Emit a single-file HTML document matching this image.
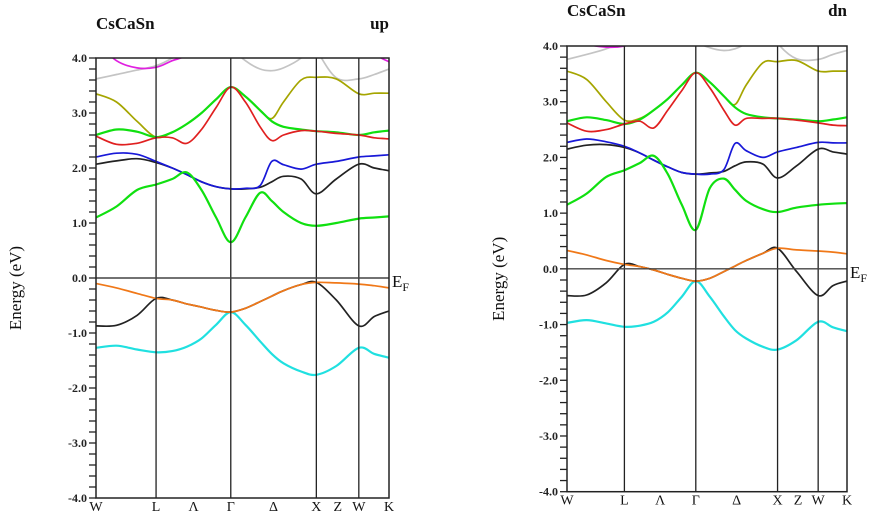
<!DOCTYPE html>
<html><head><meta charset="utf-8">
<style>
html,body{margin:0;padding:0;background:#fff;}
svg{display:block;font-family:"Liberation Serif",serif;}
</style></head>
<body>
<svg id="chart" width="873" height="518" viewBox="0 0 873 518" xmlns="http://www.w3.org/2000/svg"></svg>
<script>
// Shared k-path sample positions (fraction of path length)
const kPoints = [0,0.07,0.14,0.205,0.26,0.31,0.36,0.41,0.46,0.51,0.56,0.6,0.64,0.7,0.752,0.82,0.897,0.95,1];
const kLabels = ["W","L","Λ","Γ","Δ","X","Z","W","K"];
const kLabelPos = [0,0.205,0.333,0.46,0.606,0.752,0.825,0.897,1];
const kLines = [0.205,0.46,0.752,0.897];
const yTicks = [4,3,2,1,0,-1,-2,-3,-4];
const yTickLabels = ["4.0","3.0","2.0","1.0","0.0","-1.0","-2.0","-3.0","-4.0"];

// Spin-up bands (eV)
const upGreenLow  = [1.1,1.3,1.6,1.7,1.8,1.92,1.6,1.1,0.65,1.1,1.55,1.4,1.2,1.0,0.95,1.0,1.08,1.1,1.12];
const upBlue      = [2.2,2.27,2.25,2.12,2.0,1.88,1.75,1.66,1.62,1.63,1.68,2.12,2.06,1.98,2.07,2.12,2.2,2.22,2.24];
const upBlackHigh = [2.07,2.13,2.17,2.1,2.0,1.88,1.75,1.66,1.62,1.62,1.65,1.75,1.85,1.8,1.53,1.8,2.07,2.0,1.95];
const upRed       = [2.58,2.43,2.45,2.55,2.55,2.45,2.7,3.1,3.47,3.2,2.75,2.5,2.6,2.68,2.67,2.63,2.6,2.55,2.53];
const upGreenHigh = [2.6,2.7,2.66,2.56,2.65,2.8,3.0,3.25,3.47,3.3,3.05,2.85,2.75,2.7,2.67,2.65,2.6,2.65,2.68];
const upOlive     = [3.35,3.2,2.85,2.56,2.65,2.8,3.0,3.25,3.47,3.3,3.05,2.9,3.2,3.6,3.65,3.62,3.35,3.36,3.36];
const upGrayA     = [3.62,3.7,3.78,3.86,4.0,4.2,4.4,4.6,4.8,4.8,4.8,4.8,4.8,4.8,4.8,4.8,4.8,4.8,4.8];
const upGrayB     = [4.8,4.8,4.8,4.8,4.8,4.8,4.8,4.6,4.2,3.95,3.8,3.77,3.82,4.0,4.3,4.8,4.8,4.8,4.8];
const upGrayC     = [4.8,4.8,4.8,4.8,4.8,4.8,4.8,4.8,4.8,4.8,4.8,4.8,4.8,4.6,4.15,3.64,3.62,3.7,3.8];
const upMagenta   = [4.3,3.95,3.82,3.83,3.95,4.05,4.3,4.6,4.8,4.8,4.8,4.8,4.8,4.8,4.8,4.8,4.6,4.1,3.93];
const upOrange    = [-0.1,-0.18,-0.28,-0.37,-0.4,-0.47,-0.53,-0.59,-0.62,-0.55,-0.43,-0.33,-0.23,-0.12,-0.08,-0.09,-0.11,-0.14,-0.18];
const upBlackLow  = [-0.87,-0.86,-0.68,-0.37,-0.4,-0.47,-0.53,-0.59,-0.62,-0.55,-0.43,-0.33,-0.23,-0.12,-0.08,-0.4,-0.87,-0.7,-0.6];
const upCyan      = [-1.27,-1.23,-1.3,-1.35,-1.33,-1.25,-1.1,-0.85,-0.62,-0.85,-1.15,-1.38,-1.55,-1.7,-1.76,-1.6,-1.27,-1.38,-1.45];

// Spin-down bands (eV)
const dnGreenLow  = [1.15,1.35,1.65,1.77,1.9,2.03,1.7,1.15,0.7,1.45,1.62,1.42,1.22,1.07,1.02,1.1,1.15,1.17,1.18];
const dnBlue      = [2.27,2.33,2.28,2.2,2.08,1.95,1.83,1.73,1.7,1.7,1.78,2.25,2.12,2.0,2.1,2.18,2.27,2.26,2.26];
const dnBlackHigh = [2.15,2.22,2.23,2.18,2.08,1.95,1.83,1.73,1.7,1.72,1.75,1.85,1.92,1.88,1.63,1.85,2.15,2.1,2.06];
const dnRed       = [2.62,2.47,2.5,2.6,2.65,2.53,2.85,3.2,3.52,3.25,2.85,2.58,2.7,2.7,2.7,2.67,2.62,2.58,2.57];
const dnGreenHigh = [2.65,2.72,2.67,2.6,2.68,2.85,3.05,3.3,3.52,3.35,3.1,2.9,2.78,2.72,2.7,2.68,2.65,2.68,2.72];
const dnOlive     = [3.55,3.4,3.0,2.67,2.7,2.85,3.05,3.3,3.52,3.35,3.1,2.95,3.3,3.7,3.72,3.74,3.55,3.55,3.55];
const dnGrayA     = [3.76,3.85,3.95,4.1,4.3,4.5,4.7,4.8,4.8,4.8,4.8,4.8,4.8,4.8,4.8,4.8,4.8,4.8,4.8];
const dnGrayB     = [4.8,4.8,4.8,4.8,4.8,4.8,4.8,4.5,4.1,3.97,3.92,3.95,4.05,4.3,4.8,4.8,4.8,4.8,4.8];
const dnGrayC     = [4.8,4.8,4.8,4.8,4.8,4.8,4.8,4.8,4.8,4.8,4.8,4.8,4.8,4.5,4.05,3.77,3.76,3.85,3.92];
const dnMagenta   = [4.3,4.05,3.98,4.0,4.1,4.3,4.5,4.8,4.8,4.8,4.8,4.8,4.8,4.8,4.8,4.8,4.8,4.8,4.8];
const dnOrange    = [0.33,0.25,0.15,0.08,0.04,-0.02,-0.1,-0.17,-0.22,-0.17,-0.05,0.05,0.15,0.28,0.37,0.34,0.32,0.3,0.27];
const dnBlackLow  = [-0.48,-0.47,-0.25,0.08,0.04,-0.02,-0.1,-0.17,-0.22,-0.17,-0.05,0.05,0.15,0.28,0.37,-0.05,-0.48,-0.3,-0.22];
const dnCyan      = [-0.97,-0.92,-0.98,-1.04,-1.02,-0.95,-0.78,-0.5,-0.22,-0.5,-0.85,-1.1,-1.25,-1.4,-1.45,-1.28,-0.95,-1.05,-1.12];

const C = {gray:"#c4c4c4",magenta:"#e020e0",olive:"#a5a500",green:"#10e010",red:"#e02020",blue:"#1818d8",black:"#222222",orange:"#f07818",cyan:"#20e0e0"};
const upBands = [["gray-a",upGrayA,C.gray],["gray-b",upGrayB,C.gray],["gray-c",upGrayC,C.gray],["magenta",upMagenta,C.magenta],["olive",upOlive,C.olive],["green-high",upGreenHigh,C.green],["red",upRed,C.red],["black-high",upBlackHigh,C.black],["blue",upBlue,C.blue],["green-low",upGreenLow,C.green],["cyan",upCyan,C.cyan],["black-low",upBlackLow,C.black],["orange",upOrange,C.orange]];
const dnBands = [["gray-a",dnGrayA,C.gray],["gray-b",dnGrayB,C.gray],["gray-c",dnGrayC,C.gray],["magenta",dnMagenta,C.magenta],["olive",dnOlive,C.olive],["green-high",dnGreenHigh,C.green],["red",dnRed,C.red],["black-high",dnBlackHigh,C.black],["blue",dnBlue,C.blue],["green-low",dnGreenLow,C.green],["cyan",dnCyan,C.cyan],["black-low",dnBlackLow,C.black],["orange",dnOrange,C.orange]];

const NS="http://www.w3.org/2000/svg";
const svg=document.getElementById('chart');
function mk(tag,attrs,parent){const e=document.createElementNS(NS,tag);for(const k in attrs)e.setAttribute(k,attrs[k]);(parent||svg).appendChild(e);return e;}

function curvePath(xs,ys){
  let d="M"+xs[0].toFixed(1)+","+ys[0].toFixed(1);
  for(let i=0;i<xs.length-1;i++){
    const x0=xs[Math.max(i-1,0)],y0=ys[Math.max(i-1,0)];
    const x1=xs[i],y1=ys[i],x2=xs[i+1],y2=ys[i+1];
    const x3=xs[Math.min(i+2,xs.length-1)],y3=ys[Math.min(i+2,xs.length-1)];
    const c1x=x1+(x2-x0)/6,c1y=y1+(y2-y0)/6,c2x=x2-(x3-x1)/6,c2y=y2-(y3-y1)/6;
    d+=" C"+c1x.toFixed(1)+","+c1y.toFixed(1)+" "+c2x.toFixed(1)+","+c2y.toFixed(1)+" "+x2.toFixed(1)+","+y2.toFixed(1);
  }
  return d;
}

function panel(id,x0,x1,yTop,yBot,bands,spin,titleY,ylabX){
  const g=mk('g',{});
  const xS=k=>x0+k*(x1-x0);
  const yS=e=>yTop+(4-e)/8*(yBot-yTop);
  const cp=mk('clipPath',{id:id+'-clip'},g);
  mk('rect',{x:x0,y:yTop,width:x1-x0,height:yBot-yTop},cp);
  const t1=mk('text',{x:x0,y:titleY,'font-size':17,'font-weight':'bold',fill:'#111'},g);t1.textContent="CsCaSn";
  
  const t2=mk('text',{x:x1,y:titleY,'font-size':17,'font-weight':'bold','text-anchor':'end',fill:'#111'},g);t2.textContent=spin;
  
  const yl=mk('text',{x:ylabX,y:(yTop+yBot)/2+10,'font-size':17,'text-anchor':'middle',fill:'#111',transform:`rotate(-90 ${ylabX} ${(yTop+yBot)/2+10})`},g);yl.textContent="Energy (eV)";
  
  for(let e=-4;e<=4.001;e+=0.2){
    const y=yS(e);mk('line',{x1:x0-7,x2:x0,y1:y,y2:y,stroke:'#222','stroke-width':1.3},g);
  }
  yTicks.forEach((v,i)=>{
    const t=mk('text',{x:x0-9,y:yS(v)+4,'font-size':12,'font-weight':'bold','text-anchor':'end',fill:'#222'},g);
    t.textContent=yTickLabels[i];
    
  });
  const bg=mk('g',{'clip-path':`url(#${id}-clip)`},g);
  const xs=kPoints.map(xS);
  bands.forEach(b=>{
    const p=mk('path',{d:curvePath(xs,b[1].map(yS)),fill:'none',stroke:b[2],'stroke-width':b[2]==C.green||b[2]==C.cyan?2.2:1.7},bg);
    
    
  });
  kLines.forEach(k=>mk('line',{x1:xS(k),x2:xS(k),y1:yTop,y2:yBot,stroke:'#222','stroke-width':1.3},g));
  mk('line',{x1:x0,x2:x1,y1:yS(0),y2:yS(0),stroke:'#444','stroke-width':1.4},g);
  mk('rect',{x:x0,y:yTop,width:x1-x0,height:yBot-yTop,fill:'none',stroke:'#222','stroke-width':1.5},g);
  kLabels.forEach((l,i)=>{
    const t=mk('text',{x:xS(kLabelPos[i]),y:yBot+13,'font-size':14,'text-anchor':'middle',fill:'#111'},g);t.textContent=l;
    
  });
  const ef=mk('text',{x:x1+3,y:yS(0)+9,'font-size':17,fill:'#111'},g);
  
  ef.innerHTML='E<tspan font-size="12" dy="4">F</tspan>';
}
panel('spin-up',96,389,58,498,upBands,'up',29,21);
panel('spin-down',567,847,46,491.7,dnBands,'dn',16,504);
</script>
</body></html>
